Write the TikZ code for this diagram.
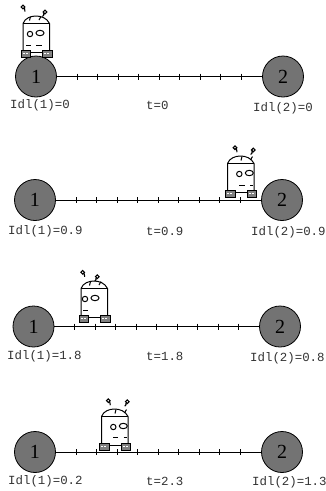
\documentclass[tikz,border=0pt]{standalone}
\usepackage{fontspec}
\setmonofont{Liberation Mono}
\newfontfamily\digitfont{Liberation Serif}
\tikzset{
  x=1pt,y=-1pt,
  hub/.style={circle,draw=black,line width=0.8pt,fill=black!55,minimum size=41pt,inner sep=0pt,font=\digitfont\fontsize{20}{20}\selectfont},
  rail/.style={line width=1pt},
  tickmark/.style={line width=0.8pt},
  lab/.style={anchor=west,inner sep=0pt,font=\ttfamily\fontsize{12.4}{12.4}\selectfont,text=black!80},
  wheel/.style={draw=black,line width=0.9pt,fill=black!50},
  rline/.style={line width=1pt,line cap=butt},
  blob/.style={line width=1.1pt}
}
% track: name, cx1, cx2, y
\newcommand{\track}[4]{%
  \node[hub] (#1a) at (#2,#4) {1};
  \node[hub] (#1b) at (#3,#4) {2};
  \draw[rail] (#1a) -- (#1b);
  \foreach \k in {0,...,8}{
    \coordinate (#1t) at ({#2+41+20.5*\k},#4);
    \draw[tickmark] ([yshift=3pt]#1t) -- ([yshift=-3pt]#1t);
  }
}
% robot: dx, dy, eye offset, tick shift, blob1 x, y, blob2 x, y
\newcommand{\robot}[8]{%
  \begin{scope}[shift={(#1,#2)}]
    \draw[rline,fill=white] (23,50) -- (23,23.5) .. controls (25,18) and (31,16) .. (36,16) .. controls (41,16) and (47,18) .. (49.5,23.5) -- (49.5,50);
    \draw[rline] (23,23.5) -- (49.5,23.5);
    \draw[rline] (30,52.5) -- (42,52.5);
    \draw[rline] (#3+30,34) circle[radius=2.7];
    \draw[rline] (#3+40,33) ellipse[x radius=4,y radius=2.7];
    \draw[rline] (#4+29.5,20.5) -- (#4+30.5,16.5);
    \draw[rline] (#4+39,20) -- (#4+41,16.5);
    \draw[blob] (#5,#6) circle[radius=1.8] (#5+1.5,#6+1.3) -- (#5+2,#6+4.5);
    \draw[blob] (#7,#8) circle[radius=1.8] (#7-1.5,#8+1.3) .. controls (#7-1,#8+3) .. (#7-2.6,#8+4.5);
    \foreach \wx in {21,42.5}{
      \draw[wheel] (\wx,50.5) rectangle (\wx+9.5,57);
      \draw[white,line width=1.2pt,dash pattern=on 2pt off 1.2pt] (\wx+1.6,53.7) -- (\wx+8,53.7);
    }
  \end{scope}
}
\begin{document}
\begin{tikzpicture}
\useasboundingbox (0,0) rectangle (326,491);
\fill[white] (0,0) rectangle (326,491);
% row 1
\track{r}{36}{283}{76.5}
\robot{0}{0}{0}{0}{23}{7}{45}{12}
\draw[rline] (26,45) -- (31,45) (36,45) -- (42,45);
\node[lab] (l1a) at (10,105) {Idl(1)=0};
\node[lab] (l1t) at (146,105) {t=0};
\node[lab] (l1b) at (253,108) {Idl(2)=0};
% row 2
\track{s}{35}{282}{200}
\robot{204.5}{140}{4.8}{7}{30.5}{7.7}{48.8}{10}
\draw[rline] (239,185) -- (245,185) (250,185) -- (253,185);
\node[lab] (l2a) at (8,231) {Idl(1)=0.9};
\node[lab] (l2t) at (146,231) {t=0.9};
\node[lab] (l2b) at (251,232) {Idl(2)=0.9};
% row 3
\track{u}{33.5}{280}{326.5}
\robot{58}{265}{-3}{2}{24.7}{7.3}{39.3}{11.7}
\draw[rline] (83,310.7) -- (87.5,310.7);
\node[lab] (l3a) at (7,356) {Idl(1)=1.8};
\node[lab] (l3t) at (146,356) {t=1.8};
\node[lab] (l3b) at (250,358) {Idl(2)=0.8};
% row 4
\track{v}{35}{282}{452}
\robot{78.5}{393}{4.8}{7}{29.8}{7.7}{48.8}{8.7}
\draw[rline] (113,437.7) -- (118,437.7) (123.5,437.7) -- (127.3,437.7);
\node[lab] (l4a) at (8,481) {Idl(1)=0.2};
\node[lab] (l4t) at (146,481) {t=2.3};
\node[lab] (l4b) at (252,482) {Idl(2)=1.3};
\end{tikzpicture}
\end{document}
